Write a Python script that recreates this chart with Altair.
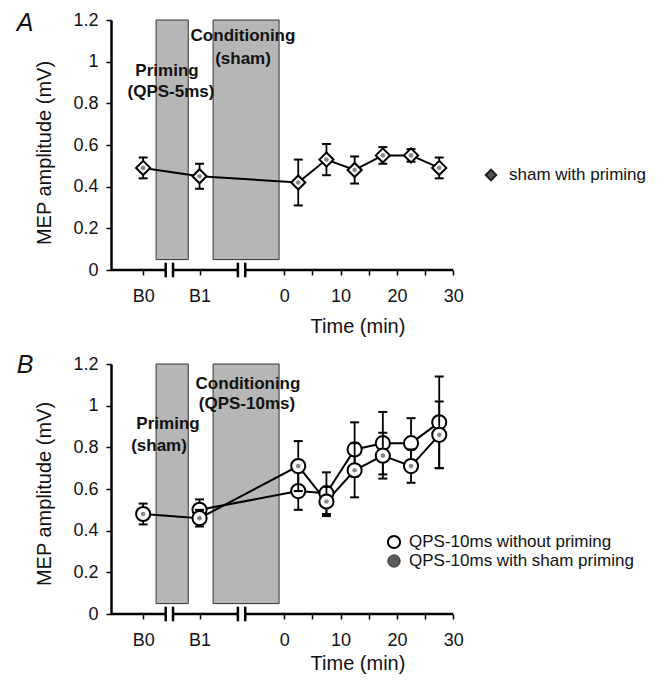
import altair as alt
import pandas as pd

# ---------------- data ----------------
B0, B1 = -25, -15
a_time = [B0, B1, 2.5, 7.5, 12.5, 17.5, 22.5, 27.5]
a_mean = [0.49, 0.45, 0.42, 0.53, 0.48, 0.55, 0.55, 0.49]
a_err = [0.05, 0.06, 0.11, 0.075, 0.065, 0.04, 0.03, 0.05]

b_open_time = [B1, 2.5, 7.5, 12.5, 17.5, 22.5, 27.5]
b_open_mean = [0.50, 0.59, 0.58, 0.79, 0.82, 0.82, 0.92]
b_open_err = [0.05, 0.09, 0.10, 0.13, 0.15, 0.12, 0.22]

b_sham_time = [B0, B1, 2.5, 7.5, 12.5, 17.5, 22.5, 27.5]
b_sham_mean = [0.48, 0.46, 0.71, 0.54, 0.69, 0.76, 0.71, 0.86]
b_sham_err = [0.05, 0.04, 0.12, 0.07, 0.13, 0.11, 0.08, 0.16]

x_tick_values = [B0, B1, 0, 5, 10, 15, 20, 25, 30]
x_tick_labels = ["B0", "B1", "0", "", "10", "", "20", "", "30"]
y_ticks = [0, 0.2, 0.4, 0.6, 0.8, 1.0, 1.2]

priming_span = [-22.7, -17.0]
conditioning_span = [-12.6, -0.9]
shade_bottom, shade_top = 0.05, 1.2
axis_segments = [(-30.7, -21.0), (-19.7, -8.2), (-6.9, 30.0)]
break_marks = [-21.0, -19.7, -8.2, -6.9]

X_DOMAIN = [-30.7, 65.05]
W, H = 540, 250
FONT = "Liberation Sans"
INK = "#111111"

label_expr = " : ".join(
    f"datum.value == {v} ? '{l}'" for v, l in zip(x_tick_values, x_tick_labels)
) + " : ''"

x_axis = alt.Axis(values=x_tick_values, labelExpr=label_expr, domain=False, grid=False,
                  tickSize=5, tickWidth=1.5, tickColor="black", labelFontSize=18,
                  labelFont=FONT, labelColor=INK, labelPadding=12, labelFlush=False,
                  labelOverlap=False, title=None)
y_axis = alt.Axis(values=y_ticks, format="~g", domain=True, domainColor="black",
                  domainWidth=2.5, grid=False, tickSize=5, tickWidth=1.5,
                  tickColor="black", labelFontSize=18, labelFont=FONT,
                  labelColor=INK, labelPadding=8, title=None)


def X(field):
    return alt.X(f"{field}:Q", scale=alt.Scale(domain=X_DOMAIN, nice=False, zero=False),
                 axis=x_axis, title=None)


def Y(field):
    return alt.Y(f"{field}:Q", scale=alt.Scale(domain=[0, 1.2], nice=False, zero=False),
                 axis=y_axis, title=None)


def txt(s, x, y, size=17, bold=False, italic=False, angle=0, align="center"):
    kw = dict(fontSize=size, fontWeight="bold" if bold else "normal",
              fontStyle="italic" if italic else "normal", align=align,
              baseline="middle", font=FONT, color=INK)
    if angle:
        kw["angle"] = angle
    return alt.Chart(pd.DataFrame({"s": [s]})).mark_text(**kw).encode(
        text="s:N", x=alt.value(x), y=alt.value(y))


def base_layers():
    shade = pd.DataFrame({"x0": [priming_span[0], conditioning_span[0]],
                          "x1": [priming_span[1], conditioning_span[1]],
                          "y0": [shade_bottom] * 2, "y1": [shade_top] * 2})
    rects = alt.Chart(shade).mark_rect(fill="#b6b6b6", stroke="#333333",
                                       strokeWidth=1).encode(
        x=X("x0"), x2="x1", y=Y("y0"), y2="y1")
    seg = pd.DataFrame({"x0": [s[0] for s in axis_segments],
                        "x1": [s[1] for s in axis_segments], "y": [0] * len(axis_segments)})
    axline = alt.Chart(seg).mark_rule(color="black", strokeWidth=2.5).encode(
        x=X("x0"), x2="x1", y=Y("y"))
    brk = pd.DataFrame({"x": break_marks, "lo": [-0.035] * 4, "hi": [0.035] * 4})
    brks = alt.Chart(brk).mark_rule(color="black", strokeWidth=2.5).encode(
        x=X("x"), y=Y("lo"), y2="hi")
    return rects, axline, brks


def series(times, means, errs, shape, name, inner=True):
    df = pd.DataFrame({"t": times, "v": means, "lo": [m - e for m, e in zip(means, errs)],
                       "hi": [m + e for m, e in zip(means, errs)], "s": name})
    caps = pd.DataFrame({"t": times * 2,
                         "c": [m - e for m, e in zip(means, errs)] +
                              [m + e for m, e in zip(means, errs)]})
    line = alt.Chart(df).mark_line(color="black", strokeWidth=2).encode(
        x=X("t"), y=Y("v"), order="t:Q")
    bars = alt.Chart(df).mark_rule(color="black", strokeWidth=1.8).encode(
        x=X("t"), y=Y("lo"), y2="hi")
    capm = alt.Chart(caps).mark_point(shape="M-1,0L1,0", filled=False, stroke="black",
                                      strokeWidth=2, size=80, opacity=1).encode(
        x=X("t"), y=Y("c"))
    pts = alt.Chart(df).mark_point(shape=shape, fill="white", fillOpacity=1,
                                   stroke="black", strokeWidth=2, size=200,
                                   opacity=1).encode(x=X("t"), y=Y("v"))
    layers = [bars, capm, pts]
    if inner:
        dot = alt.Chart(df).mark_point(shape="circle", filled=True, color="#8a8a8a",
                                       size=22, opacity=1).encode(x=X("t"), y=Y("v"))
        layers.append(dot)
    return line, layers


# ---------------- panel A ----------------
rA, axA, brA = base_layers()
lineA, ptsA = series(a_time, a_mean, a_err, "diamond", "sham with priming", inner=True)
panelA = alt.layer(
    rA,
    txt("Conditioning", 132, 16, bold=True),
    txt("(sham)", 132, 39, bold=True),
    txt("Priming", 56, 51, bold=True),
    txt("(QPS-5ms)", 60, 72, bold=True),
    lineA, *ptsA, axA, brA,
    alt.Chart(pd.DataFrame({"k": [0]})).mark_point(
        shape="diamond", filled=True, fill="#555555", stroke="#222222", size=110,
        opacity=1).encode(x=alt.value(380), y=alt.value(155)),
    txt("sham with priming", 398, 155, size=17, align="left"),
    txt("A", -86, 3, size=25, italic=True),
    txt("MEP amplitude (mV)", -66, 133, size=20, angle=270),
    txt("Time (min)", 247, 307, size=20),
).properties(width=W, height=H)

# ---------------- panel B ----------------
rB, axB, brB = base_layers()
lineB1, ptsB1 = series(b_open_time, b_open_mean, b_open_err, "circle",
                       "QPS-10ms without priming", inner=False)
lineB2, ptsB2 = series(b_sham_time, b_sham_mean, b_sham_err, "circle",
                       "QPS-10ms with sham priming", inner=True)
panelB = alt.layer(
    rB,
    txt("Conditioning", 137, 20, bold=True),
    txt("(QPS-10ms)", 136, 40, bold=True),
    txt("Priming", 57, 60, bold=True),
    txt("(sham)", 48, 82, bold=True),
    lineB1, lineB2, *ptsB1, *ptsB2, axB, brB,
    alt.Chart(pd.DataFrame({"k": [0]})).mark_point(
        shape="circle", fill="white", fillOpacity=1, stroke="black", strokeWidth=2,
        size=150, opacity=1).encode(x=alt.value(283), y=alt.value(178)),
    alt.Chart(pd.DataFrame({"k": [0]})).mark_point(
        shape="circle", filled=True, fill="#5a5a5a", stroke="#222222", strokeWidth=1,
        size=150, opacity=1).encode(x=alt.value(283), y=alt.value(197)),
    txt("QPS-10ms without priming", 298, 178, size=17, align="left"),
    txt("QPS-10ms with sham priming", 298, 197, size=17, align="left"),
    txt("B", -86, 1, size=25, italic=True),
    txt("MEP amplitude (mV)", -66, 130, size=20, angle=270),
    txt("Time (min)", 247, 300, size=20),
).properties(width=W, height=H)

chart = alt.vconcat(panelA, panelB, spacing=16).properties(
    padding={"left": 8, "top": 3, "right": 2, "bottom": 0}
).configure_view(stroke=None)

chart.save("out.html", embed_options={"renderer": "svg", "actions": False})
